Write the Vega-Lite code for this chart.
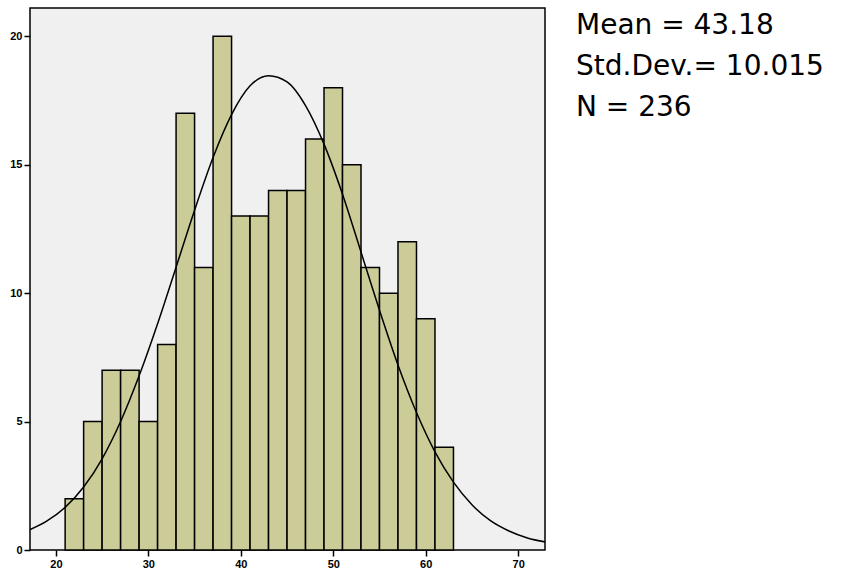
{
  "$schema": "https://vega.github.io/schema/vega-lite/v6.json",
  "autosize": "none",
  "width": 515,
  "height": 542,
  "padding": {"left": 30, "top": 8, "right": 302, "bottom": 24},
  "background": "white",
  "config": {
    "view": {"fill": "#F0F0F0", "stroke": "black", "strokeWidth": 1.5},
    "axis": {
      "grid": false,
      "domain": false,
      "tickColor": "black",
      "tickWidth": 1.5,
      "tickSize": 6,
      "labelFont": "Liberation Sans",
      "labelFontSize": 11,
      "labelFontWeight": "bold",
      "labelColor": "black",
      "labelPadding": 2,
      "title": null
    }
  },
  "title": {
    "text": ["Mean = 43.18", "Std.Dev.= 10.015", "N = 236"],
    "orient": "top",
    "anchor": "start",
    "frame": "group",
    "baseline": "top",
    "offset": 0,
    "dx": 546,
    "dy": 114,
    "font": "DejaVu Sans",
    "fontSize": 28,
    "fontWeight": "normal",
    "color": "black",
    "lineHeight": 41
  },
  "datasets": {
    "bars": [
      {"bin_start": 21, "bin_end": 23, "count": 2},
      {"bin_start": 23, "bin_end": 25, "count": 5},
      {"bin_start": 25, "bin_end": 27, "count": 7},
      {"bin_start": 27, "bin_end": 29, "count": 7},
      {"bin_start": 29, "bin_end": 31, "count": 5},
      {"bin_start": 31, "bin_end": 33, "count": 8},
      {"bin_start": 33, "bin_end": 35, "count": 17},
      {"bin_start": 35, "bin_end": 37, "count": 11},
      {"bin_start": 37, "bin_end": 39, "count": 20},
      {"bin_start": 39, "bin_end": 41, "count": 13},
      {"bin_start": 41, "bin_end": 43, "count": 13},
      {"bin_start": 43, "bin_end": 45, "count": 14},
      {"bin_start": 45, "bin_end": 47, "count": 14},
      {"bin_start": 47, "bin_end": 49, "count": 16},
      {"bin_start": 49, "bin_end": 51, "count": 18},
      {"bin_start": 51, "bin_end": 53, "count": 15},
      {"bin_start": 53, "bin_end": 55, "count": 11},
      {"bin_start": 55, "bin_end": 57, "count": 10},
      {"bin_start": 57, "bin_end": 59, "count": 12},
      {"bin_start": 59, "bin_end": 61, "count": 9},
      {"bin_start": 61, "bin_end": 63, "count": 4}
    ],
    "curve": [
      {"x": 17, "y": 0.76},
      {"x": 19, "y": 1.12},
      {"x": 21, "y": 1.66},
      {"x": 23, "y": 2.45},
      {"x": 25, "y": 3.55},
      {"x": 27, "y": 5.0},
      {"x": 29, "y": 6.78},
      {"x": 31, "y": 8.81},
      {"x": 33, "y": 11.01},
      {"x": 35, "y": 13.23},
      {"x": 37, "y": 15.28},
      {"x": 39, "y": 16.95},
      {"x": 41, "y": 18.07},
      {"x": 43, "y": 18.46},
      {"x": 45, "y": 18.22},
      {"x": 47, "y": 17.3},
      {"x": 49, "y": 15.8},
      {"x": 51, "y": 13.85},
      {"x": 53, "y": 11.6},
      {"x": 55, "y": 9.33},
      {"x": 57, "y": 7.2},
      {"x": 59, "y": 5.35},
      {"x": 61, "y": 3.82},
      {"x": 63, "y": 2.64},
      {"x": 65, "y": 1.76},
      {"x": 67, "y": 1.14},
      {"x": 69, "y": 0.74},
      {"x": 71, "y": 0.47},
      {"x": 73, "y": 0.31}
    ]
  },
  "layer": [
    {
      "data": {"name": "bars"},
      "mark": {"type": "rect", "fill": "#CCCC99", "stroke": "black", "strokeWidth": 1.5},
      "encoding": {
        "x": {
          "field": "bin_start", "type": "quantitative",
          "scale": {"domain": [17.2, 72.9], "nice": false, "zero": false},
          "axis": {"values": [20, 30, 40, 50, 60, 70]}
        },
        "x2": {"field": "bin_end"},
        "y": {
          "field": "count", "type": "quantitative",
          "scale": {"domain": [0, 21.1], "nice": false},
          "axis": {"values": [0, 5, 10, 15, 20]}
        }
      }
    },
    {
      "data": {"name": "curve"},
      "mark": {"type": "line", "color": "black", "strokeWidth": 1.5, "interpolate": "monotone", "clip": true},
      "encoding": {
        "x": {"field": "x", "type": "quantitative"},
        "y": {"field": "y", "type": "quantitative"}
      }
    }
  ]
}
